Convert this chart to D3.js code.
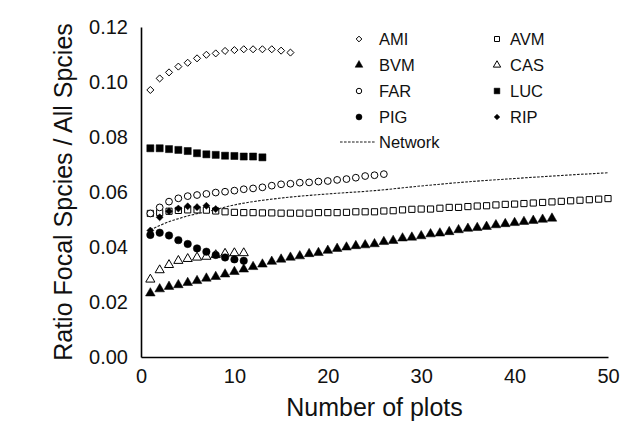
<!DOCTYPE html>
<html>
<head>
<meta charset="utf-8">
<script src="https://cdn.jsdelivr.net/npm/d3@7"></script>
<style>
  html, body { margin: 0; padding: 0; background: #fff; }
  #chart { width: 630px; height: 422px; }
  text { font-family: "Liberation Sans", Arial, sans-serif; fill: #111; }
</style>
</head>
<body>
<div id="chart"></div>
<script>
'use strict';

// Ratio of focal species per number of plots (x = 1..n for every series)
const AMI = [0.0971, 0.1013, 0.1035, 0.1056, 0.1070, 0.1086, 0.1099, 0.1104, 0.1113, 0.1116,
             0.1119, 0.1119, 0.1119, 0.1119, 0.1114, 0.1107];
const AVM = [0.0522, 0.0525, 0.0530, 0.0533, 0.0535, 0.0535, 0.0534, 0.0531, 0.0528, 0.0526,
             0.0525, 0.0525, 0.0524, 0.0524, 0.0523, 0.0523, 0.0523, 0.0523, 0.0525, 0.0525,
             0.0525, 0.0526, 0.0528, 0.0528, 0.0528, 0.0531, 0.0532, 0.0535, 0.0537, 0.0538,
             0.0538, 0.0541, 0.0544, 0.0544, 0.0547, 0.0549, 0.0550, 0.0553, 0.0555, 0.0556,
             0.0558, 0.0560, 0.0562, 0.0564, 0.0566, 0.0568, 0.0570, 0.0572, 0.0574, 0.0576];
const BVM = [0.0232, 0.0247, 0.0256, 0.0262, 0.0270, 0.0277, 0.0286, 0.0292, 0.0301, 0.0310,
             0.0319, 0.0328, 0.0337, 0.0347, 0.0355, 0.0362, 0.0367, 0.0375, 0.0379, 0.0387,
             0.0394, 0.0399, 0.0404, 0.0407, 0.0411, 0.0419, 0.0423, 0.0432, 0.0435, 0.0440,
             0.0447, 0.0450, 0.0455, 0.0462, 0.0467, 0.0470, 0.0474, 0.0480, 0.0484, 0.0488,
             0.0492, 0.0496, 0.0500, 0.0504];
const CAS = [0.0282, 0.0316, 0.0335, 0.0350, 0.0357, 0.0362, 0.0365, 0.0371, 0.0376, 0.0378, 0.0378];
const FAR = [0.0522, 0.0544, 0.0565, 0.0577, 0.0585, 0.0589, 0.0593, 0.0598, 0.0601, 0.0605,
             0.0610, 0.0613, 0.0617, 0.0623, 0.0628, 0.0630, 0.0634, 0.0635, 0.0638, 0.0640,
             0.0644, 0.0647, 0.0652, 0.0658, 0.0661, 0.0665];
const LUC = [0.0759, 0.0759, 0.0756, 0.0753, 0.0749, 0.0741, 0.0737, 0.0735, 0.0732, 0.0731,
             0.0729, 0.0729, 0.0726];
const PIG = [0.0444, 0.0452, 0.0442, 0.0425, 0.0411, 0.0395, 0.0383, 0.0371, 0.0362, 0.0355, 0.0350];
const RIP = [0.0460, 0.0508, 0.0530, 0.0540, 0.0548, 0.0545, 0.0550, 0.0538];

// Network curve, read at selected plot counts
const NETWORK_X = [1, 2, 3, 4, 5, 7, 10, 15, 20, 25, 30, 35, 40, 45, 50];
const NETWORK_Y = [0.0462, 0.0478, 0.0492, 0.0503, 0.0513, 0.0528, 0.0553, 0.0578, 0.0593,
                   0.0605, 0.0622, 0.0637, 0.0649, 0.0660, 0.0670];

const X_TICKS = [0, 10, 20, 30, 40, 50];
const Y_TICKS = [0, 0.02, 0.04, 0.06, 0.08, 0.10, 0.12];

const W = 630, H = 422;
const PLOT = { left: 141, right: 608, top: 27, bottom: 357 };

// Excel-like diamond (square turned 45deg)
const symbolRhomb = {
  draw(ctx, size) {
    const r = Math.sqrt(size) * 0.72;
    ctx.moveTo(0, -r); ctx.lineTo(r, 0); ctx.lineTo(0, r); ctx.lineTo(-r, 0); ctx.closePath();
  }
};

const SERIES = [
  { name: 'AMI', values: AMI, type: symbolRhomb,      size: 24, filled: false },
  { name: 'AVM', values: AVM, type: d3.symbolSquare,   size: 38, filled: false },
  { name: 'BVM', values: BVM, type: d3.symbolTriangle, size: 40, filled: true  },
  { name: 'CAS', values: CAS, type: d3.symbolTriangle, size: 36, filled: false },
  { name: 'FAR', values: FAR, type: d3.symbolCircle,   size: 36, filled: false },
  { name: 'LUC', values: LUC, type: d3.symbolSquare,   size: 50, filled: true  },
  { name: 'PIG', values: PIG, type: d3.symbolCircle,   size: 44, filled: true  },
  { name: 'RIP', values: RIP, type: symbolRhomb,      size: 24, filled: true  },
];

const x = d3.scaleLinear().domain([0, 50]).range([PLOT.left, PLOT.right]);
const y = d3.scaleLinear().domain([0, 0.12]).range([PLOT.bottom, PLOT.top]);

const svg = d3.select('#chart').append('svg')
  .attr('width', W).attr('height', H);

// Axes (no tick marks, Excel style)
svg.append('g')
  .attr('transform', `translate(0,${PLOT.bottom})`)
  .call(d3.axisBottom(x).tickValues(X_TICKS).tickSize(0).tickPadding(12).tickFormat(d3.format('d')))
  .call(g => g.select('.domain').attr('stroke', '#000').attr('stroke-width', 1.6))
  .call(g => g.selectAll('text').attr('font-size', '20px').attr('dy', '0.71em')
    .style('font-family', '"Liberation Sans", Arial, sans-serif').attr('fill', '#111'));

svg.append('g')
  .attr('transform', `translate(${PLOT.left},0)`)
  .call(d3.axisLeft(y).tickValues(Y_TICKS).tickSize(0).tickPadding(13).tickFormat(d3.format('.2f')))
  .call(g => g.select('.domain').attr('stroke', '#000').attr('stroke-width', 1.6))
  .call(g => g.selectAll('text').attr('font-size', '20px')
    .style('font-family', '"Liberation Sans", Arial, sans-serif').attr('fill', '#111'));

// Axis titles
svg.append('text')
  .attr('x', (PLOT.left + PLOT.right) / 2).attr('y', 416)
  .attr('text-anchor', 'middle').attr('font-size', '25px')
  .text('Number of plots');

svg.append('text')
  .attr('transform', `translate(72,${(PLOT.top + PLOT.bottom) / 2}) rotate(-90)`)
  .attr('text-anchor', 'middle').attr('font-size', '25px')
  .text('Ratio Focal Spcies / All Spcies');

// Network line
const netLine = d3.line()
  .x(d => x(d[0]))
  .y(d => y(d[1]))
  .curve(d3.curveMonotoneX);

svg.append('path')
  .datum(d3.zip(NETWORK_X, NETWORK_Y))
  .attr('fill', 'none')
  .attr('stroke', '#1a1a1a')
  .attr('stroke-width', 1.1)
  .attr('stroke-dasharray', '2.6,1.4')
  .attr('d', netLine);

// Markers
SERIES.forEach(s => {
  svg.append('g')
    .selectAll('path')
    .data(s.values.map((v, i) => [i + 1, v]))
    .join('path')
    .attr('transform', d => `translate(${x(d[0])},${y(d[1])})`)
    .attr('d', d3.symbol().type(s.type).size(s.size))
    .attr('fill', s.filled ? '#000' : '#fff')
    .attr('stroke', '#000')
    .attr('stroke-width', s.filled ? 0.5 : 1);
});

// Legend
const LEG_ROW = [39, 65, 91, 117];
const LEG_COL = [{ sym: 359, txt: 379 }, { sym: 497, txt: 510 }];

const legend = svg.append('g').attr('class', 'legend');
SERIES.forEach((s, i) => {
  const col = LEG_COL[i % 2];
  const ry = LEG_ROW[Math.floor(i / 2)];
  legend.append('path')
    .attr('transform', `translate(${col.sym},${ry})`)
    .attr('d', d3.symbol().type(s.type).size(s.size * 0.65))
    .attr('fill', s.filled ? '#000' : '#fff')
    .attr('stroke', '#000')
    .attr('stroke-width', s.filled ? 0.5 : 1);
  legend.append('text')
    .attr('x', col.txt).attr('y', ry)
    .attr('dy', '0.35em')
    .attr('font-size', '16.5px')
    .text(s.name);
});

legend.append('line')
  .attr('x1', 340).attr('x2', 376)
  .attr('y1', 142).attr('y2', 142)
  .attr('stroke', '#1a1a1a').attr('stroke-width', 1.1)
  .attr('stroke-dasharray', '2.6,1.4');
legend.append('text')
  .attr('x', 379).attr('y', 142)
  .attr('dy', '0.35em')
  .attr('font-size', '16.5px')
  .text('Network');
</script>
</body>
</html>
